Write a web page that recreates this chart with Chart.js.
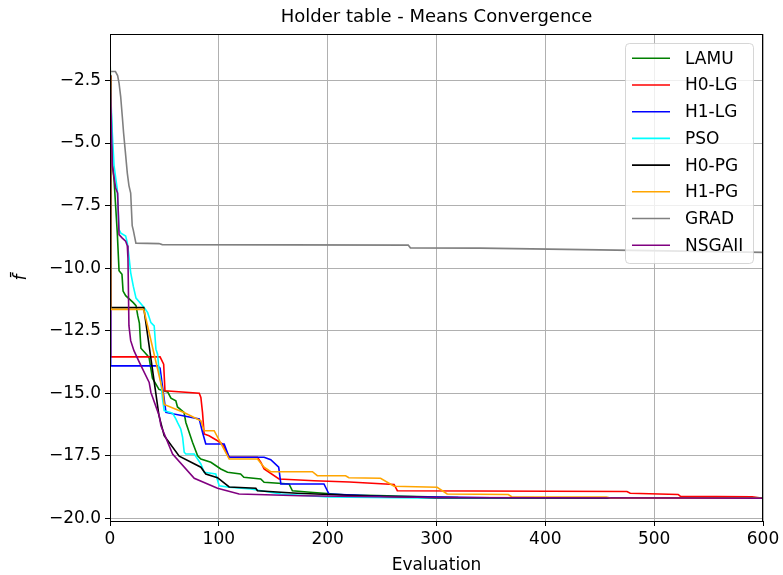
<!DOCTYPE html>
<html>
<head>
<meta charset="utf-8">
<script src="https://cdn.jsdelivr.net/npm/chart.js@4/dist/chart.umd.min.js"></script>
<style>
  html, body { margin: 0; padding: 0; background: #fff; }
  #wrap { width: 783px; height: 575px; }
</style>
</head>
<body>
<div id="wrap"><canvas id="chart" width="783" height="575"></canvas></div>
<script>
// mean best value per evaluation, [evaluation, f]
const lamu = [[0,-1.5],[1,-3.6],[2.5,-5.9],[3.7,-6.46],[5.2,-7.53],[6.7,-8.59],[8.3,-10.1],[11,-10.25],[12,-10.92],[14.4,-11.1],[21.4,-11.38],[23.9,-11.5],[25.5,-11.9],[27,-12.2],[28.4,-13.2],[34.6,-13.5],[36,-13.6],[39,-14.4],[45,-14.85],[53,-14.95],[56,-15.2],[60.5,-15.3],[62,-15.55],[68,-15.77],[69.7,-16.17],[72.7,-16.56],[75.8,-16.96],[80.5,-17.5],[83.5,-17.63],[92.7,-17.76],[101.8,-18.03],[108,-18.16],[120,-18.23],[123,-18.36],[138.5,-18.43],[141.6,-18.56],[164.5,-18.63],[167.6,-18.9],[184,-18.96],[215,-19.06],[255,-19.1],[320,-19.17],[600,-19.2]];
const h0lg = [[0,-2.3],[0.6,-13.55],[46,-13.55],[49.3,-13.84],[50.5,-14.9],[82,-15.0],[83.5,-15.17],[85,-15.77],[86.5,-16.63],[91,-16.7],[98.8,-16.9],[103.4,-17.03],[109.5,-17.56],[135.5,-17.56],[138.5,-17.76],[141.6,-18.03],[155.3,-18.43],[187.5,-18.5],[220,-18.55],[261,-18.65],[264,-18.9],[475,-18.93],[478,-19.0],[522,-19.05],[524,-19.12],[590,-19.14],[600,-19.2]];
const h1lg = [[0,-2.3],[0.6,-13.91],[43.7,-13.91],[46,-14.0],[51.4,-15.77],[82,-16.03],[85,-16.56],[88,-17.03],[104.9,-17.03],[109.5,-17.56],[141.6,-17.56],[147.7,-17.66],[155,-17.96],[157,-18.63],[196.6,-18.63],[201.2,-19.03],[250,-19.12],[350,-19.18],[600,-19.2]];
const pso = [[0,-2.3],[2,-4.5],[3.7,-5.9],[6.7,-6.86],[8.3,-8.46],[10,-8.6],[14.4,-8.72],[15.9,-8.99],[17.4,-9.52],[19,-10.18],[21.4,-10.72],[23.9,-11.2],[31.5,-11.58],[34.6,-11.78],[37.6,-12.18],[40.6,-12.31],[42.2,-13.24],[43.7,-13.44],[45.2,-14.17],[46.8,-14.57],[48.3,-15.24],[49.8,-15.7],[57.5,-15.8],[60.5,-16.03],[62,-16.17],[65,-16.43],[66.7,-16.76],[68.2,-17.36],[69.7,-17.43],[77.4,-17.43],[83.5,-17.83],[86.5,-18.16],[97.2,-18.23],[100.3,-18.7],[109.5,-18.76],[129.4,-18.83],[157,-19.03],[200,-19.15],[300,-19.2],[600,-19.2]];
const h0pg = [[0,-2.3],[0.6,-11.58],[31,-11.58],[45,-15.9],[49.8,-16.7],[63.6,-17.52],[83.5,-17.96],[88,-18.23],[98.8,-18.38],[109.5,-18.75],[134,-18.8],[135.5,-18.9],[157,-18.96],[172,-19.0],[230,-19.1],[300,-19.18],[600,-19.2]];
const h1pg = [[0,-2.3],[0.6,-11.65],[31,-11.65],[48.3,-14.9],[49.8,-15.45],[60.5,-15.64],[68,-15.77],[83.5,-16.1],[86.5,-16.5],[95.7,-16.5],[109.5,-17.63],[135.5,-17.63],[141.6,-17.96],[147.7,-18.14],[186,-18.14],[190.5,-18.3],[216.5,-18.3],[219.5,-18.38],[248.6,-18.4],[261,-18.72],[300.6,-18.76],[309.8,-19.03],[366,-19.05],[369,-19.14],[456,-19.15],[460,-19.19],[600,-19.2]];
const grad = [[0,-2.14],[5,-2.14],[7,-2.3],[8.3,-2.6],[9.8,-3.14],[11.3,-3.94],[12.5,-4.6],[14,-5.3],[15.9,-6.2],[17.4,-6.7],[19,-7.0],[20.4,-8.3],[21.5,-8.5],[23.8,-9.0],[45,-9.02],[48,-9.06],[274,-9.08],[276,-9.19],[340,-9.2],[450,-9.27],[600,-9.37]];
const nsga = [[0,-2.3],[1,-3.9],[2.1,-5.9],[5.2,-6.8],[7,-7.0],[8.3,-8.66],[11.3,-8.8],[14.4,-8.92],[15.9,-9.1],[16.5,-9.6],[17.4,-12.3],[19,-12.9],[22,-13.3],[27,-13.77],[36,-14.57],[37.6,-14.97],[45.2,-15.9],[46.8,-16.3],[57.5,-17.43],[77.4,-18.4],[98.8,-18.8],[118.6,-19.03],[175,-19.1],[300,-19.17],[600,-19.2]];

const names = ["LAMU", "H0-LG", "H1-LG", "PSO", "H0-PG", "H1-PG", "GRAD", "NSGAII"];
const colors = ["#008000", "#ff0000", "#0000ff", "#00ffff", "#000000", "#ffa500", "#808080", "#800080"];
const series = [lamu, h0lg, h1lg, pso, h0pg, h1pg, grad, nsga];
const yTicks = [-20, -17.5, -15, -12.5, -10, -7.5, -5, -2.5];

const FONT = "'DejaVu Sans', sans-serif";

// matplotlib-ish frame, title, axis labels and legend box
const decor = {
  id: "decor",
  afterDraw(chart) {
    const ctx = chart.ctx;
    const a = chart.chartArea;
    ctx.save();
    ctx.strokeStyle = "#000";
    ctx.lineWidth = 1;
    ctx.strokeRect(a.left + 0.5, a.top + 0.5, a.right - a.left - 1, a.bottom - a.top);

    ctx.fillStyle = "#000";
    ctx.textAlign = "center";
    ctx.textBaseline = "middle";
    ctx.font = "18px " + FONT;
    ctx.fillText("Holder table - Means Convergence", (a.left + a.right) / 2, 17);
    ctx.font = "17px " + FONT;
    ctx.fillText("Evaluation", (a.left + a.right) / 2, 566);

    ctx.save();
    ctx.translate(22, (a.top + a.bottom) / 2);
    ctx.rotate(-Math.PI / 2);
    ctx.font = "italic 17px " + FONT;
    ctx.fillText("f\u0304", 0, 0);
    ctx.restore();

    // legend
    const bx = 625, by = 43, bw = 128, bh = 220;
    ctx.beginPath();
    ctx.roundRect(bx + 0.5, by + 0.5, bw, bh, 4);
    ctx.fillStyle = "rgba(255,255,255,0.8)";
    ctx.fill();
    ctx.strokeStyle = "rgba(204,204,204,0.8)";
    ctx.stroke();
    ctx.font = "17px " + FONT;
    ctx.textAlign = "left";
    names.forEach((n, i) => {
      const y = 58.3 + i * 26.7;
      ctx.beginPath();
      ctx.moveTo(632, y);
      ctx.lineTo(670, y);
      ctx.strokeStyle = colors[i];
      ctx.lineWidth = 1.6;
      ctx.stroke();
      ctx.fillStyle = "#000";
      ctx.fillText(n, 685, y + 1);
    });
    ctx.restore();
  }
};

const datasets = series.map((s, i) => ({
  label: names[i],
  data: s.map(p => ({ x: p[0], y: p[1] })),
  borderColor: colors[i],
  borderWidth: 1.6,
  pointRadius: 0,
  tension: 0,
  fill: false,
  order: series.length - i
}));

new Chart(document.getElementById("chart"), {
  type: "line",
  data: { datasets },
  plugins: [decor],
  options: {
    responsive: false,
    animation: false,
    layout: { padding: { top: 34, right: 20, left: 0, bottom: 0 } },
    plugins: { legend: { display: false }, tooltip: { enabled: false } },
    scales: {
      x: {
        type: "linear",
        min: 0,
        max: 600,
        ticks: { stepSize: 100, color: "#000", font: { family: FONT, size: 17 }, padding: 3, maxRotation: 0 },
        grid: { color: "#b0b0b0", lineWidth: 1, tickColor: "#000", tickLength: 5 },
        border: { color: "#000", width: 1 },
        afterFit: s => { s.height = 54; }
      },
      y: {
        type: "linear",
        min: -20.11,
        max: -0.64,
        afterBuildTicks: s => { s.ticks = yTicks.map(v => ({ value: v })); },
        ticks: {
          color: "#000",
          font: { family: FONT, size: 17 },
          padding: 4,
          callback: v => v.toFixed(1).replace("-", "\u2212")
        },
        grid: { color: "#b0b0b0", lineWidth: 1, tickColor: "#000", tickLength: 5 },
        border: { color: "#000", width: 1 },
        afterFit: s => { s.width = 110; }
      }
    }
  }
});
</script>
</body>
</html>
